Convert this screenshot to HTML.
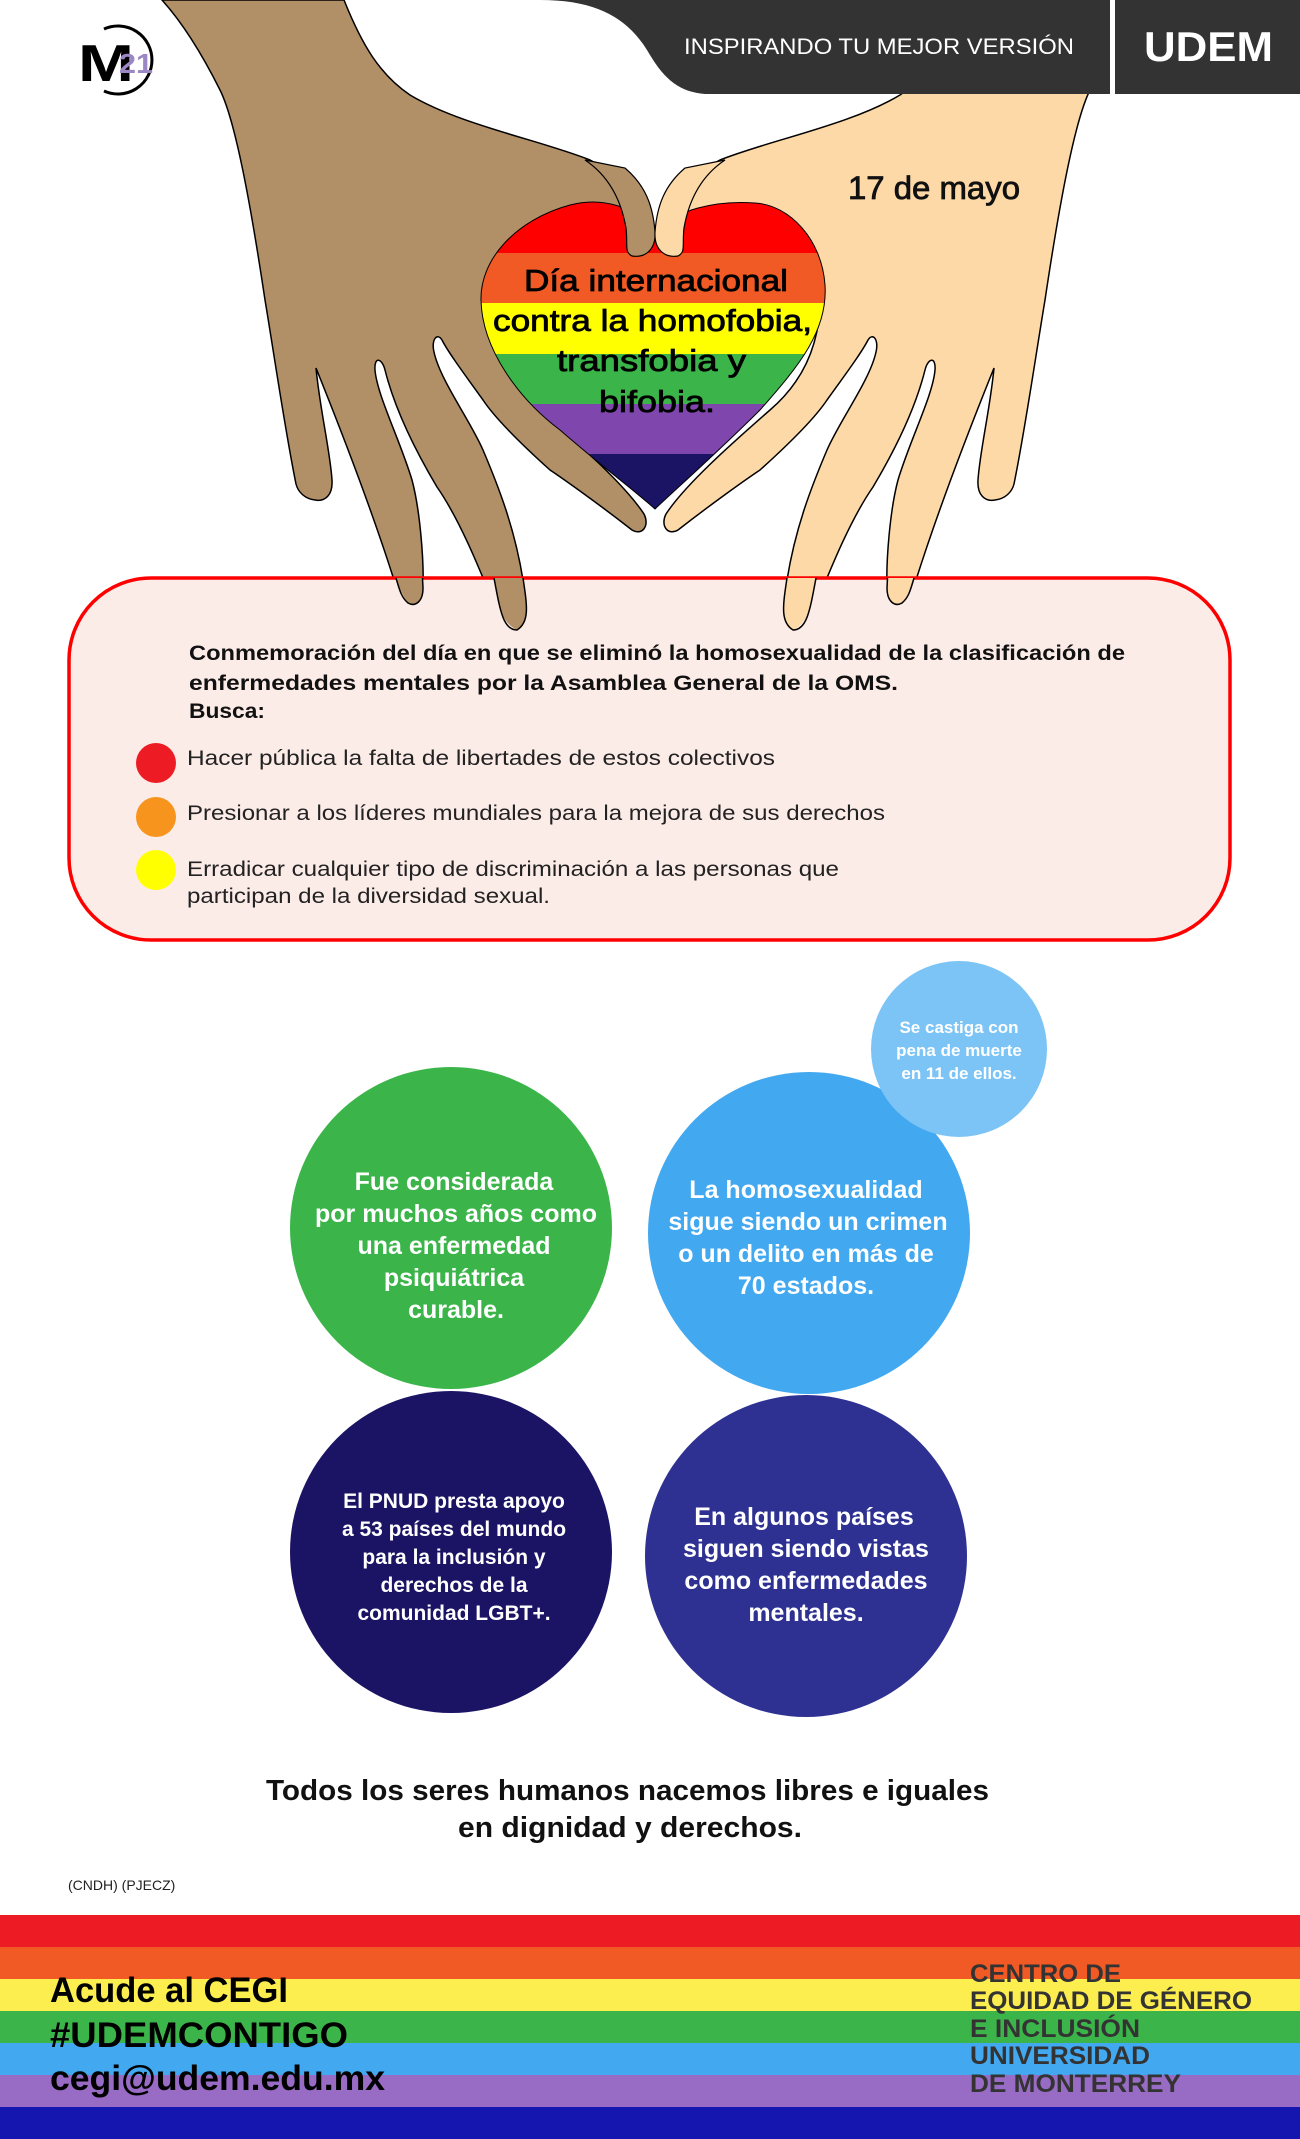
<!DOCTYPE html>
<html><head><meta charset="utf-8"><style>
html,body{margin:0;padding:0;background:#fff;}
svg{display:block;}
text{font-family:"Liberation Sans",sans-serif;}
</style></head><body>
<svg width="1300" height="2139" viewBox="0 0 1300 2139" xmlns="http://www.w3.org/2000/svg">
<defs>
<clipPath id="hc"><path d="M655,232 C635,205 600,197 570,205 C515,220 480,260 481,300 C482,350 520,400 560,430 C600,465 640,495 655,509 C675,490 720,450 760,410 C800,365 828,330 825,285 C822,240 790,205 755,203 C715,200 675,210 655,232 Z"/></clipPath>
<path id="hand" d="M162,0 L344,0 C362,45 380,75 410,95 C460,125 540,140 590,160 C625,178 648,205 654,232 C656,248 648,256 638,255 C628,254 622,246 618,238 L600,240 L540,260 L490,290 C488,340 505,380 540,410 C580,445 625,485 644,514 C650,526 642,536 632,530 C600,505 565,480 550,470 C520,443 495,418 483,400 C465,375 448,352 442,340 C437,332 431,340 434,352 C440,380 470,420 483,450 C500,490 515,530 523,580 C527,605 530,622 517,630 C505,633 500,622 497,612 C480,570 460,520 437,487 C415,450 395,410 385,370 C382,358 374,356 375,370 C377,395 400,440 412,480 C420,510 424,560 423,588 C423,602 415,607 408,603 C400,598 397,590 394,580 C375,520 345,440 316,368 C320,410 330,450 332,480 C333,495 325,502 315,500 C305,499 298,492 296,484 C285,430 275,360 265,300 C250,200 235,120 220,90 C200,50 180,20 162,0 Z"/>
<path id="thumb" d="M585,160 C612,178 622,205 626,228 C628,245 624,252 632,256 C645,258 656,250 655,232 C653,205 645,185 625,168 Z"/>
</defs>

<use href="#hand" fill="#b29067" stroke="#000" stroke-width="1.5"/>
<use href="#hand" fill="#fdd9a8" stroke="#000" stroke-width="1.5" transform="translate(1310,0) scale(-1,1)"/>

<g clip-path="url(#hc)">
<rect x="470" y="190" width="370" height="63" fill="#ff0000"/>
<rect x="470" y="253" width="370" height="50" fill="#f15a24"/>
<rect x="470" y="303" width="370" height="51" fill="#ffff00"/>
<rect x="470" y="354" width="370" height="50" fill="#3bb54a"/>
<rect x="470" y="404" width="370" height="50" fill="#7f47ad"/>
<rect x="470" y="454" width="370" height="60" fill="#1b1464"/>
</g>
<path d="M655,232 C635,205 600,197 570,205 C515,220 480,260 481,300 C482,350 520,400 560,430 C600,465 640,495 655,509 C675,490 720,450 760,410 C800,365 828,330 825,285 C822,240 790,205 755,203 C715,200 675,210 655,232 Z" fill="none" stroke="#000" stroke-width="1"/>
<use href="#thumb" fill="#b29067" stroke="#000" stroke-width="1.2"/>
<use href="#thumb" fill="#fdd9a8" stroke="#000" stroke-width="1.2" transform="translate(1310,0) scale(-1,1)"/>

<g font-size="31" fill="#000" stroke="#000" stroke-width="0.8">
<text x="524" y="291" textLength="264" lengthAdjust="spacingAndGlyphs">Día internacional</text>
<text x="493" y="331" textLength="319" lengthAdjust="spacingAndGlyphs">contra la homofobia,</text>
<text x="557" y="371" textLength="189" lengthAdjust="spacingAndGlyphs">transfobia y</text>
<text x="599" y="412" textLength="116" lengthAdjust="spacingAndGlyphs">bifobia.</text>
</g>
<text x="848" y="199" font-size="32" fill="#111" stroke="#111" stroke-width="0.8" textLength="172" lengthAdjust="spacingAndGlyphs">17 de mayo</text>

<path d="M540,0 L1300,0 L1300,94 L705,94 C680,92 665,80 650,55 C630,20 600,0 540,0 Z" fill="#333"/>
<rect x="1110" y="0" width="5" height="94" fill="#fff"/>
<text x="684" y="54" font-size="22" fill="#fff" textLength="390" lengthAdjust="spacingAndGlyphs">INSPIRANDO TU MEJOR VERSIÓN</text>
<text x="1144" y="61" font-size="42" font-weight="bold" fill="#fff" textLength="129" lengthAdjust="spacingAndGlyphs">UDEM</text>

<path d="M104,29 A34,34 0 1 1 104,91" fill="none" stroke="#000" stroke-width="3"/>
<text x="78" y="81" font-size="52" font-weight="bold" fill="#000" textLength="56" lengthAdjust="spacingAndGlyphs">M</text>
<text x="119" y="73" font-size="28" font-weight="bold" fill="#9b87c4" textLength="34" lengthAdjust="spacingAndGlyphs">21</text>

<rect x="69" y="578" width="1161" height="362" rx="82" ry="82" fill="#fcece8" stroke="#f00" stroke-width="3.5"/>
<g>
<path d="M396,578 C400,590 405,600 408,603 C415,607 423,602 423,588 L422,578 Z" fill="#b29067"/>
<path d="M494,578 C497,600 500,622 517,630 C530,622 527,605 523,578 Z" fill="#b29067"/>
<path d="M396,578 C400,592 402,598 408,603 C415,607 423,602 423,588 L422.5,578" fill="none" stroke="#000" stroke-width="1.5"/>
<path d="M494,578 C500,610 503,630 517,630 C530,622 527,605 523,578" fill="none" stroke="#000" stroke-width="1.5"/>
<g transform="translate(1310,0) scale(-1,1)">
<path d="M396,578 C400,590 405,600 408,603 C415,607 423,602 423,588 L422,578 Z" fill="#fdd9a8"/>
<path d="M494,578 C497,600 500,622 517,630 C530,622 527,605 523,578 Z" fill="#fdd9a8"/>
<path d="M396,578 C400,592 402,598 408,603 C415,607 423,602 423,588 L422.5,578" fill="none" stroke="#000" stroke-width="1.5"/>
<path d="M494,578 C500,610 503,630 517,630 C530,622 527,605 523,578" fill="none" stroke="#000" stroke-width="1.5"/>
</g>
</g>
<g font-size="21" fill="#111" font-weight="bold">
<text x="189" y="660" textLength="936" lengthAdjust="spacingAndGlyphs">Conmemoración del día en que se eliminó la homosexualidad de la clasificación de</text>
<text x="189" y="690" textLength="709" lengthAdjust="spacingAndGlyphs">enfermedades mentales por la Asamblea General de la OMS.</text>
<text x="189" y="718" textLength="76" lengthAdjust="spacingAndGlyphs">Busca:</text>
</g>
<circle cx="156" cy="763" r="20" fill="#ed1c24"/>
<circle cx="156" cy="817" r="20" fill="#f7941d"/>
<circle cx="156" cy="870" r="20" fill="#ffff00"/>
<g font-size="21" fill="#222">
<text x="187" y="765" textLength="588" lengthAdjust="spacingAndGlyphs">Hacer pública la falta de libertades de estos colectivos</text>
<text x="187" y="820" textLength="698" lengthAdjust="spacingAndGlyphs">Presionar a los líderes mundiales para la mejora de sus derechos</text>
<text x="187" y="876" textLength="652" lengthAdjust="spacingAndGlyphs">Erradicar cualquier tipo de discriminación a las personas que</text>
<text x="187" y="903" textLength="363" lengthAdjust="spacingAndGlyphs">participan de la diversidad sexual.</text>
</g>

<circle cx="451" cy="1228" r="161" fill="#3bb54a"/>
<circle cx="809" cy="1233" r="161" fill="#42a8f0"/>
<circle cx="959" cy="1049" r="88" fill="#7cc4f5"/>
<circle cx="451" cy="1552" r="161" fill="#1b1464"/>
<circle cx="806" cy="1556" r="161" fill="#2e3192"/>
<g fill="#fff" font-weight="bold" text-anchor="middle">
<g font-size="25">
<text x="454" y="1190">Fue considerada</text>
<text x="456" y="1222">por muchos años como</text>
<text x="454" y="1254">una enfermedad</text>
<text x="454" y="1286">psiquiátrica</text>
<text x="456" y="1318">curable.</text>
</g>
<g font-size="25">
<text x="806" y="1198">La homosexualidad</text>
<text x="808" y="1230">sigue siendo un crimen</text>
<text x="806" y="1262">o un delito en más de</text>
<text x="806" y="1294">70 estados.</text>
</g>
<g font-size="17">
<text x="959" y="1033">Se castiga con</text>
<text x="959" y="1056">pena de muerte</text>
<text x="959" y="1079">en 11 de ellos.</text>
</g>
<g font-size="21">
<text x="454" y="1508">El PNUD presta apoyo</text>
<text x="454" y="1536">a 53 países del mundo</text>
<text x="454" y="1564">para la inclusión y</text>
<text x="454" y="1592">derechos de la</text>
<text x="454" y="1620">comunidad LGBT+.</text>
</g>
<g font-size="25">
<text x="804" y="1525">En algunos países</text>
<text x="806" y="1557">siguen siendo vistas</text>
<text x="806" y="1589">como enfermedades</text>
<text x="806" y="1621">mentales.</text>
</g>
</g>

<g font-size="29" fill="#111" font-weight="bold">
<text x="266" y="1800" textLength="723" lengthAdjust="spacingAndGlyphs">Todos los seres humanos nacemos libres e iguales</text>
<text x="458" y="1837" textLength="344" lengthAdjust="spacingAndGlyphs">en dignidad y derechos.</text>
</g>
<text x="68" y="1890" font-size="14" fill="#222">(CNDH) (PJECZ)</text>

<rect x="0" y="1915" width="1300" height="32" fill="#ed1c24"/>
<rect x="0" y="1947" width="1300" height="32" fill="#f15a24"/>
<rect x="0" y="1979" width="1300" height="32" fill="#fdee4f"/>
<rect x="0" y="2011" width="1300" height="32" fill="#3bb54a"/>
<rect x="0" y="2043" width="1300" height="32" fill="#42a8f0"/>
<rect x="0" y="2075" width="1300" height="32" fill="#986bc4"/>
<rect x="0" y="2107" width="1300" height="32" fill="#1515b0"/>
<g font-size="35" fill="#000" font-weight="bold">
<text x="50" y="2002" textLength="238" lengthAdjust="spacingAndGlyphs">Acude al CEGI</text>
<text x="50" y="2047" textLength="298" lengthAdjust="spacingAndGlyphs">#UDEMCONTIGO</text>
<text x="50" y="2090" textLength="335" lengthAdjust="spacingAndGlyphs">cegi@udem.edu.mx</text>
</g>
<g font-size="25" fill="#333" font-weight="bold">
<text x="970" y="1982" textLength="151" lengthAdjust="spacingAndGlyphs">CENTRO DE</text>
<text x="970" y="2009" textLength="282" lengthAdjust="spacingAndGlyphs">EQUIDAD DE GÉNERO</text>
<text x="970" y="2037" textLength="170" lengthAdjust="spacingAndGlyphs">E INCLUSIÓN</text>
<text x="970" y="2064" textLength="180" lengthAdjust="spacingAndGlyphs">UNIVERSIDAD</text>
<text x="970" y="2092" textLength="211" lengthAdjust="spacingAndGlyphs">DE MONTERREY</text>
</g>
</svg>
</body></html>
